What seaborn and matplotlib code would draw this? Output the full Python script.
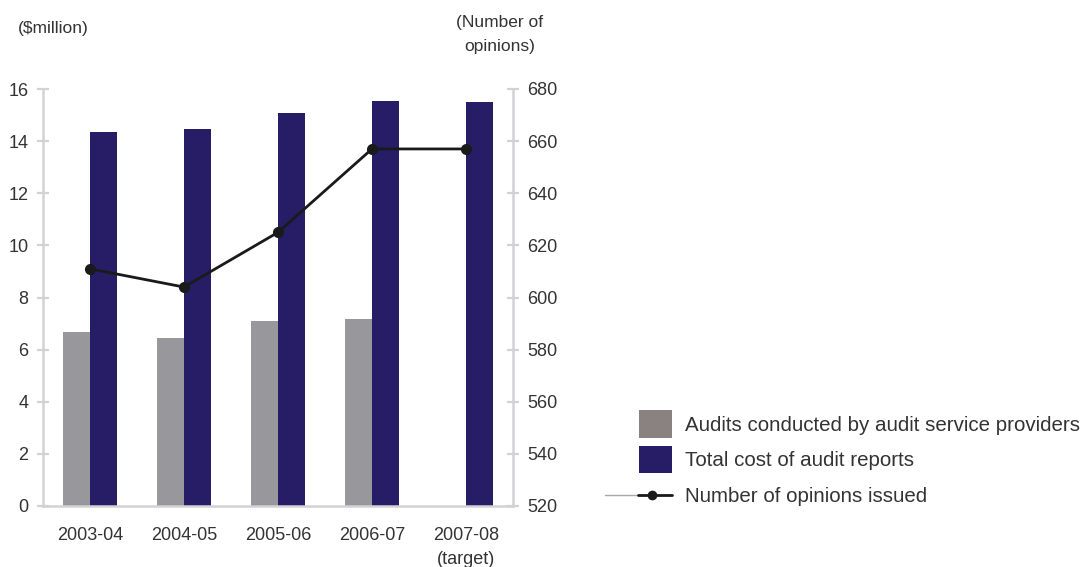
import numpy as np
import pandas as pd
import matplotlib
matplotlib.use("Agg")
import matplotlib.pyplot as plt
import seaborn as sns
from matplotlib.patches import Patch, Rectangle
from matplotlib.lines import Line2D
from matplotlib.legend_handler import HandlerPatch

years = ["2003-04", "2004-05", "2005-06", "2006-07", "2007-08\n(target)"]
audits_providers = [6.68, 6.45, 7.10, 7.18, np.nan]
total_cost = [14.35, 14.47, 15.08, 15.54, 15.50]
opinions = [611, 604, 625, 657, 657]

series_names = ["Audits conducted by audit service providers", "Total cost of audit reports"]
line_name = "Number of opinions issued"

GRAY = "#98979c"
GRAY_LEG = "#8a8280"
NAVY = "#271d66"
AXIS = "#d2d2d6"
TXT = "#333333"

sns.set_theme(style="white")
plt.rcParams["font.family"] = ["Liberation Sans", "DejaVu Sans"]

df = pd.DataFrame({
    "year": years * 2,
    "value": audits_providers + total_cost,
    "series": [series_names[0]] * len(years) + [series_names[1]] * len(years),
})

fig = plt.figure(figsize=(10.88, 5.67), dpi=100)
ax = fig.add_axes([43 / 1088, 1 - 506 / 567, (513 - 43) / 1088, (506 - 89) / 567])

sns.barplot(data=df, x="year", y="value", hue="series", hue_order=series_names,
            palette=[GRAY, NAVY], saturation=1, width=0.58, ax=ax, legend=False,
            linewidth=0, edgecolor="none")
ax.set_xlim(-0.5, len(years) - 0.5)
ax.set_ylim(0, 16)
ax.set_yticks(np.arange(0, 17, 2))
ax.set_xlabel("")
ax.set_ylabel("")

ax2 = ax.twinx()
line_df = pd.DataFrame({"pos": np.arange(len(years)), "opinions": opinions})
sns.lineplot(data=line_df, x="pos", y="opinions", ax=ax2, color="#1a1a1a",
             linewidth=2, marker="o", markersize=8, markeredgewidth=0)
ax2.set_ylim(520, 680)
ax2.set_yticks(np.arange(520, 681, 20))
ax2.set_xlim(-0.5, len(years) - 0.5)
ax2.set_xlabel("")
ax2.set_ylabel("")

# x ticks: labels at centres, tick marks at category boundaries
ax.set_xticks(np.arange(len(years)))
ax.set_xticklabels(years, linespacing=1.55)
ax.set_xticks(np.arange(-0.5, len(years), 1.0), minor=True)
ax.tick_params(axis="x", which="major", length=0, pad=15, labelsize=13, labelcolor=TXT)
ax.tick_params(axis="x", which="minor", length=9, width=1.6, direction="inout", color=AXIS)
ax.tick_params(axis="y", length=9, width=1.6, direction="inout", color=AXIS,
               labelsize=13, labelcolor=TXT, pad=6)
ax2.tick_params(axis="y", length=9, width=1.6, direction="inout", color=AXIS,
                labelsize=13, labelcolor=TXT, pad=6)

for a in (ax, ax2):
    for s in a.spines.values():
        s.set_visible(False)
ax.spines["left"].set_visible(True)
ax.spines["bottom"].set_visible(True)
ax2.spines["right"].set_visible(True)
for s in (ax.spines["left"], ax.spines["bottom"], ax2.spines["right"]):
    s.set_color(AXIS)
    s.set_linewidth(1.8)

fig.text(18 / 1088, 1 - 28 / 567, "($million)", fontsize=12.5, color=TXT, va="center", ha="left")
fig.text(500 / 1088, 1 - 35 / 567, "(Number of\nopinions)", fontsize=12.5, color=TXT,
         va="center", ha="center", multialignment="center", linespacing=1.75)


def square_patch(legend, orig_handle, xdescent, ydescent, width, height, fontsize):
    pw, ph = 23.8, 20.0
    return Rectangle((width - pw - xdescent, -ydescent + (height - ph) / 2), pw, ph)


class LineHandler:
    def legend_artist(self, legend, orig_handle, fontsize, handlebox):
        x0, y0 = -handlebox.xdescent, -handlebox.ydescent
        w, h = handlebox.width, handlebox.height
        ym = y0 + h / 2
        tr = handlebox.get_transform()
        thin = Line2D([x0, x0 + 0.52 * w], [ym, ym], color="#a8a8a8", lw=1.0, transform=tr)
        thick = Line2D([x0 + 0.5 * w, x0 + w], [ym, ym], color="#1a1a1a", lw=2.0, transform=tr)
        mk = Line2D([x0 + 0.71 * w], [ym], color="#1a1a1a", marker="o", markersize=7,
                    markeredgewidth=0, linestyle="none", transform=tr)
        for art in (thin, thick, mk):
            handlebox.add_artist(art)
        return thick


handles = [Patch(facecolor=GRAY_LEG, edgecolor="none"),
           Patch(facecolor=NAVY, edgecolor="none"),
           Line2D([], [], color="#1a1a1a")]
labels = [series_names[0], series_names[1], line_name]
leg = fig.legend(handles, labels, loc="upper left", bbox_to_anchor=(605 / 1088, 1 - 412 / 567),
                 frameon=False, fontsize=14.8, handlelength=3.25, handleheight=1.38,
                 handletextpad=0.66, labelspacing=0.6, borderpad=0, borderaxespad=0,
                 labelcolor=TXT,
                 handler_map={Patch: HandlerPatch(patch_func=square_patch), Line2D: LineHandler()})

fig.savefig("out.png", dpi=100)
